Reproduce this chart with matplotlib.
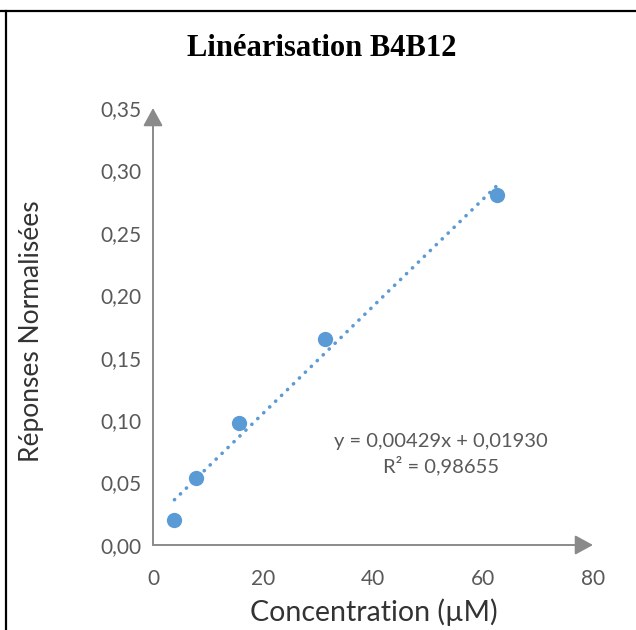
import numpy as np
from matplotlib import pyplot as plt
from matplotlib.lines import Line2D

# data
conc = [3.9, 7.8, 15.6, 31.25, 62.5]
resp = [0.020, 0.054, 0.098, 0.165, 0.280]
xticks = [0, 20, 40, 60, 80]
yticks = [0.00, 0.05, 0.10, 0.15, 0.20, 0.25, 0.30, 0.35]
eq_text = "y = 0,00429x + 0,01930\nR² = 0,98655"

BLUE = '#5B9BD5'
GREY = '#595959'
AXC = '#8a8a8a'
FONT = ['Lato', 'DejaVu Sans']

fig = plt.figure(figsize=(6.36, 6.30), dpi=100)
ax = fig.add_axes([153/636, 85/630, 440/636, 437/630])

# linear trend line (dotted) across the data range
slope, icpt = np.polyfit(conc, resp, 1)
xs = np.array([min(conc), max(conc)])
ax.plot(xs, slope*xs + icpt, color=BLUE, lw=2.6, linestyle=(0, (0.05, 2.25)),
        dash_capstyle='round', zorder=2)
ax.plot(conc, resp, 'o', color=BLUE, ms=11, mec='none', zorder=3)

ax.set_xlim(0, 80)
ax.set_ylim(0, 0.35)
ax.set_xticks(xticks)
ax.set_yticks(yticks)
ax.set_xticklabels([str(v) for v in xticks])
ax.set_yticklabels([('%.2f' % v).replace('.', ',') for v in yticks])
ax.tick_params(length=0, labelsize=15, labelcolor=GREY)
ax.tick_params(axis='x', pad=17)
ax.tick_params(axis='y', pad=8)
for lab in ax.get_xticklabels() + ax.get_yticklabels():
    lab.set_family(FONT)
for s in ax.spines.values():
    s.set_visible(False)
ax.patch.set_visible(False)

# axes drawn as arrows
arrow = dict(arrowstyle='-|>,head_length=1.1,head_width=0.6', color=AXC,
             lw=1.4, shrinkA=0, shrinkB=0, mutation_scale=10)
ax.annotate('', xy=(1, 0), xytext=(0, 0), xycoords='axes fraction',
            arrowprops=arrow, annotation_clip=False)
ax.annotate('', xy=(0, 1), xytext=(0, 0), xycoords='axes fraction',
            arrowprops=arrow, annotation_clip=False)

fig.text(374/636, 1 - 612/630, 'Concentration (µM)', ha='center', va='center',
         fontsize=20.5, color='#333333', family=FONT)
fig.text(32/636, 1 - 331/630, 'Réponses Normalisées', ha='center', va='center',
         rotation=90, fontsize=19, color='#333333', family=FONT)

fig.text(441/636, 1 - 454/630, eq_text, ha='center', va='center', fontsize=14.5,
         color=GREY, family=FONT, linespacing=1.35)

fig.text(322/636, 1 - 48/630, 'Linéarisation B4B12', ha='center', va='center',
         fontsize=22, fontweight='bold', family=['Liberation Serif', 'DejaVu Serif'])

# page frame lines
fig.add_artist(Line2D([0, 1], [1 - 11/630, 1 - 11/630], color='black', lw=1.6))
fig.add_artist(Line2D([6/636, 6/636], [0, 1 - 11/630], color='black', lw=1.6))

fig.savefig('out.png', dpi=100)
